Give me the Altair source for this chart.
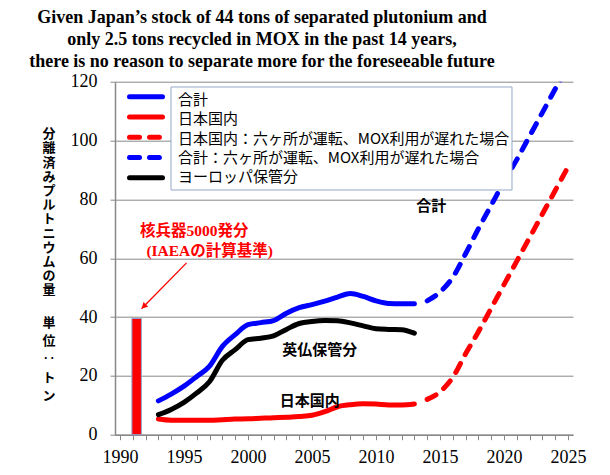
import altair as alt
import pandas as pd

# ---------------- data ----------------
hist_years = list(range(1993, 2014))
total_hist = [11.5, 13.8, 16.5, 19.8, 23.3, 30.0, 34.0, 37.4, 38.1, 38.8,
              41.3, 43.2, 44.2, 45.4, 46.8, 48.0, 47.0, 45.5, 44.6, 44.5, 44.5]
japan_hist = [5.3, 4.9, 4.9, 4.9, 4.9, 5.1, 5.3, 5.4, 5.6, 5.8,
              5.9, 6.2, 6.6, 7.8, 9.5, 10.2, 10.5, 10.4, 10.1, 10.1, 10.4]
europe_hist = [6.8, 8.6, 11.0, 14.2, 18.1, 25.3, 28.9, 32.3, 32.8, 33.6,
               35.8, 37.8, 38.5, 38.8, 38.7, 38.0, 37.0, 36.0, 35.8, 35.7, 34.5]

proj_years = list(range(2014, 2026))
japan_proj = [12.0, 14.6, 19.5, 27.5, 35.0, 43.0, 51.0, 59.0, 67.0, 75.0, 83.0, 91.0]
total_proj = [45.5, 48.5, 53.5, 61.5, 70.0, 78.0, 86.0, 93.5, 101.5, 109.5, 117.5, 125.0]

bomb_year = [1991.3]
bomb_value = [39.5]

S_TOTAL = "合計"
S_JP = "日本国内"
S_JPP = "日本国内：六ヶ所が運転、MOX利用が遅れた場合"
S_TOTP = "合計：六ヶ所が運転、MOX利用が遅れた場合"
S_EU = "ヨーロッパ保管分"

legend_labels = [S_TOTAL, S_JP, S_JPP, S_TOTP, S_EU]
legend_colors = ["#0000FF", "#FF0000", "#FF0000", "#0000FF", "#000000"]
legend_dashes = [[1, 0], [1, 0], [10, 10], [10, 10], [1, 0]]

title_lines = [
    "Given Japan\u2019s stock of 44 tons of separated plutonium and",
    "only 2.5 tons recycled in MOX in the past 14 years,",
    "there is no reason to separate more for the foreseeable future",
]
ytitle_a = list("分離済みプルトニウムの量")
ytitle_b = ["単", "位", "‥", "ト", "ン"]

x_ticks = list(range(1990, 2026))
y_ticks = [0, 20, 40, 60, 80, 100, 120]

# annotations (data coordinates)
arrow_df = pd.DataFrame({"x": [1995.2], "y": [58.4], "x2": [1991.68], "y2": [42.8]})
arrowhead_df = pd.DataFrame({"x": [1991.91], "y": [43.8]})
red_note_df = pd.DataFrame({"x": [1995.8, 1997.0], "y": [69.3, 62.5],
                            "t": ["核兵器5000発分", "(IAEAの計算基準)"]})
line_label_df = pd.DataFrame({"x": [2014.31, 2005.6, 2004.83], "y": [77.8, 28.9, 11.4],
                              "t": ["合計", "英仏保管分", "日本国内"]})

# ---------------- tables ----------------
hist_df = pd.concat([
    pd.DataFrame({"year": hist_years, "value": total_hist, "series": S_TOTAL}),
    pd.DataFrame({"year": hist_years, "value": japan_hist, "series": S_JP}),
    pd.DataFrame({"year": hist_years, "value": europe_hist, "series": S_EU}),
])
proj_df = pd.concat([
    pd.DataFrame({"year": proj_years, "value": japan_proj, "series": S_JPP}),
    pd.DataFrame({"year": proj_years, "value": total_proj, "series": S_TOTP}),
])
bar_df = pd.DataFrame({"year": bomb_year, "value": bomb_value})
legend_df = pd.DataFrame({"label": legend_labels})
one = pd.DataFrame({"a": [0]})

GRAY = "#888888"
xscale = alt.Scale(domain=[1990, 2025], nice=False, zero=False)
yscale = alt.Scale(domain=[0, 120], nice=False)
xaxis = alt.Axis(values=x_ticks, labelExpr="datum.value % 5 === 0 ? datum.label : ''",
                 format="d", grid=False, title=None, tickSize=5, tickColor=GRAY,
                 domainColor=GRAY, domainWidth=1.5, labelFont="Liberation Serif",
                 labelFontSize=18, labelColor="black", labelPadding=9, labelFlush=False)
yaxis = alt.Axis(values=y_ticks, grid=True, gridColor=GRAY, gridWidth=1, title=None,
                 tickSize=5, tickColor=GRAY, domainColor=GRAY, domainWidth=1.5,
                 labelFont="Liberation Serif", labelFontSize=18, labelColor="black",
                 labelPadding=13, labelFlush=False)


def X(f):
    return alt.X(f, type="quantitative", scale=xscale, axis=xaxis)


def Y(f):
    return alt.Y(f, type="quantitative", scale=yscale, axis=yaxis)


cscale = alt.Scale(domain=legend_labels, range=legend_colors)

bar = alt.Chart(bar_df).mark_bar(color="#FF0000", stroke="#8EA6CF", strokeWidth=1, size=9.5).encode(
    x=X("year"), y=Y("value"))

solid = alt.Chart(hist_df).mark_line(strokeWidth=5, interpolate="monotone", strokeCap="round").encode(
    x=X("year"), y=Y("value"),
    color=alt.Color("series:N", scale=cscale, legend=None),
    detail="series:N")

dashed = alt.Chart(proj_df).mark_line(strokeWidth=5, interpolate="monotone", strokeDash=[10, 10],
                                      strokeCap="round", clip=True).encode(
    x=X("year"), y=Y("value"),
    color=alt.Color("series:N", scale=cscale, legend=None),
    detail="series:N")

arrow = alt.Chart(arrow_df).mark_rule(color="#FF0000", strokeWidth=1.3).encode(
    x=X("x"), y=Y("y"), x2="x2", y2="y2")
arrowhead = alt.Chart(arrowhead_df).mark_point(shape="triangle", filled=True, color="#FF0000",
                                               opacity=1, size=45, angle=225).encode(
    x=X("x"), y=Y("y"))

red_notes = alt.Chart(red_note_df).mark_text(font="Liberation Serif, Noto Sans CJK JP", fontSize=15.5,
                                             fontWeight="bold", color="#FF0000", align="center",
                                             baseline="middle").encode(
    x=X("x"), y=Y("y"), text="t:N")

line_labels = alt.Chart(line_label_df).mark_text(font="Noto Sans CJK JP", fontSize=15,
                                                 fontWeight="bold", color="black", align="center",
                                                 baseline="middle").encode(
    x=X("x"), y=Y("y"), text="t:N")

title = alt.Chart(one).mark_text(font="Liberation Serif", fontSize=18, fontWeight="bold",
                                 color="black", align="center", baseline="top",
                                 lineHeight=22).encode(
    x=alt.value(147), y=alt.value(-72.8), text=alt.value(title_lines))

ytitle1 = alt.Chart(one).mark_text(font="Noto Sans CJK JP", fontSize=13, fontWeight="bold",
                                   color="black", align="center", baseline="top",
                                   lineHeight=14.2).encode(
    x=alt.value(-66), y=alt.value(46.6), text=alt.value(ytitle_a))
ytitle2 = alt.Chart(one).mark_text(font="Noto Sans CJK JP", fontSize=13, fontWeight="bold",
                                   color="black", align="center", baseline="top",
                                   lineHeight=18.3).encode(
    x=alt.value(-66), y=alt.value(235), text=alt.value(ytitle_b))

main = alt.layer(bar, solid, dashed, arrow, arrowhead, red_notes, line_labels,
                 title, ytitle1, ytitle2)

legend_box = alt.Chart(one).mark_rect(fill="white", stroke="#95A7C8", strokeWidth=1).encode(
    x=alt.value(56), x2=alt.value(397), y=alt.value(5.3), y2=alt.value(108.3))

legend_sym = alt.Chart(legend_df).mark_rule(strokeWidth=5, strokeCap="round").encode(
    x=alt.value(14.5), x2=alt.value(47.5),
    y=alt.Y("label:N", scale=alt.Scale(type="point", domain=legend_labels, range=[15, 96], padding=0),
            axis=None),
    color=alt.Color("label:N", scale=cscale, legend=None),
    strokeDash=alt.StrokeDash("label:N", scale=alt.Scale(domain=legend_labels, range=legend_dashes),
                              legend=None))

legend_txt = alt.Chart(legend_df).mark_text(font="Noto Sans CJK JP", fontSize=15, color="black",
                                            align="left", baseline="middle").encode(
    x=alt.value(63),
    y=alt.Y("label:N", scale=alt.Scale(type="point", domain=legend_labels, range=[18.5, 95.5], padding=0),
            axis=None),
    text="label:N")

chart = alt.layer(main, legend_box, legend_sym, legend_txt).resolve_scale(
    y="independent", strokeDash="independent"
).properties(
    width=458, height=353,
    autosize=alt.AutoSizeParams(type="none"),
    padding={"left": 107, "top": 73.7, "right": 25, "bottom": 32},
    background="white",
).configure_view(stroke=None)

chart.save("out.html", embed_options={"renderer": "svg", "actions": False})
